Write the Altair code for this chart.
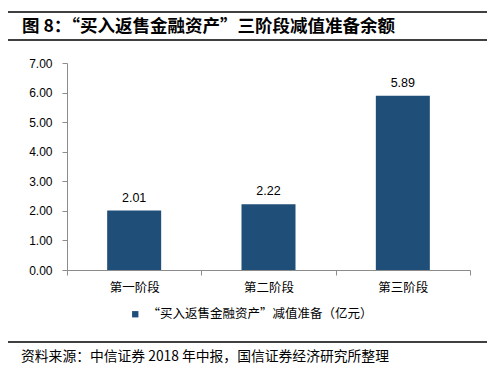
import altair as alt
import pandas as pd

categories = ["第一阶段", "第二阶段", "第三阶段"]
values = [2.01, 2.22, 5.89]
series_name = "“买入返售金融资产”减值准备（亿元）"
y_ticks = [0, 1, 2, 3, 4, 5, 6, 7]
title_text = "图 8：“买入返售金融资产”三阶段减值准备余额"
source_text = "资料来源：中信证券 2018 年中报，国信证券经济研究所整理"

df = pd.DataFrame({"cat": categories, "val": values, "series": [series_name] * 3})
one = pd.DataFrame({"k": [0]})

CJK = "Noto Sans CJK SC"
LAT = "Liberation Sans"
BAR = "#1F4E79"

x_enc = alt.X("cat:N", sort=categories, title=None,
              scale=alt.Scale(paddingInner=0, paddingOuter=0),
              axis=alt.Axis(labelAngle=0, tickBand="extent", labelFont=CJK, labelFontSize=12.5,
                            labelColor="#000", labelPadding=6, tickSize=5, grid=False,
                            domainColor="#8c8c8c", tickColor="#8c8c8c"))
y_enc = alt.Y("val:Q", title=None,
              scale=alt.Scale(domain=[0, 7], nice=False),
              axis=alt.Axis(values=y_ticks, format=".2f", grid=False, labelFont=LAT,
                            labelFontSize=12, labelColor="#000", tickSize=5, labelPadding=10,
                            labelOverlap=False,
                            domainColor="#8c8c8c", tickColor="#8c8c8c"))

bars = alt.Chart(df).mark_bar(size=54).encode(
    x=x_enc, y=y_enc,
    color=alt.Color("series:N", title=None,
                    scale=alt.Scale(range=[BAR]),
                    legend=alt.Legend(orient="none", legendX=62, legendY=245,
                                      symbolType="square", symbolSize=40, padding=0,
                                      labelFont=CJK, labelFontSize=12.5, labelColor="#000",
                                      labelLimit=0,
                                      symbolStrokeWidth=0, labelOffset=6)),
)

labels = alt.Chart(df).mark_text(baseline="bottom", dy=-6, font=LAT, fontSize=12.5,
                                 color="#000").encode(
    x=x_enc, y=y_enc, text=alt.Text("val:Q", format=".2f"))

def hline(y):
    return alt.Chart(one).mark_rule(color="#000", strokeWidth=1.5).encode(
        x=alt.value(-59), x2=alt.value(420), y=alt.value(y))

title = alt.Chart(one).mark_text(align="left", baseline="middle", font=CJK, fontSize=17.5,
                                 fontWeight="bold", color="#000").encode(
    x=alt.value(-45), y=alt.value(-36), text=alt.value(title_text))

source = alt.Chart(one).mark_text(align="left", baseline="middle", font=CJK, fontSize=13.8,
                                  color="#000").encode(
    x=alt.value(-46), y=alt.value(294), text=alt.value(source_text))

chart = alt.layer(bars, labels, hline(-51), hline(-23), hline(279), title, source).properties(
    width=403, height=207,
    autosize=alt.AutoSizeParams(type="none"),
    padding={"left": 59, "top": 55, "right": 22, "bottom": 101},
).configure(background="#ffffff").configure_view(stroke=None)

chart.save("out.html", embed_options={"renderer": "svg", "actions": False})
